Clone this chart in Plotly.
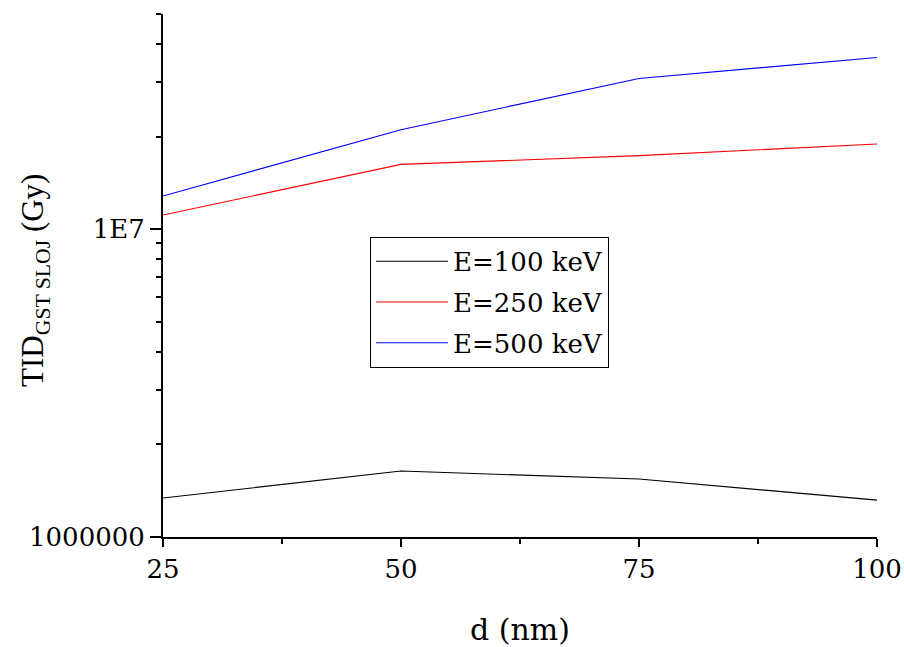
import plotly.graph_objects as go

d_nm = [25, 50, 75, 100]
e100 = [1.339e6, 1.638e6, 1.543e6, 1.318e6]
e250 = [1.112e7, 1.623e7, 1.733e7, 1.891e7]
e500 = [1.282e7, 2.104e7, 3.087e7, 3.613e7]
names = ["E=100 keV", "E=250 keV", "E=500 keV"]
colors = ["black", "red", "blue"]

y_major = [1e6, 1e7]
y_major_text = ["1000000", "1E7"]
y_minor = [2e6, 3e6, 4e6, 5e6, 6e6, 7e6, 8e6, 9e6, 2e7, 3e7, 4e7, 5e7]
x_major = [25, 50, 75, 100]
x_minor = [37.5, 62.5, 87.5]

SERIF = "DejaVu Serif"
TITLE_Y_FONT = "Liberation Serif"

fig = go.Figure()
for i, (ys, n, c) in enumerate(zip([e100, e250, e500], names, colors)):
    fig.add_trace(go.Scatter(x=d_nm, y=ys, mode="lines", name=n,
                             legendgroup=f"g{i}",
                             line=dict(color=c, width=1.1)))

fig.update_layout(
    width=904, height=647,
    margin=dict(l=163, r=27, t=14, b=110),
    paper_bgcolor="white", plot_bgcolor="white",
    font=dict(family=SERIF, color="black", size=26),
    showlegend=True,
    legend=dict(x=0.29, y=0.574, xanchor="left", yanchor="top",
                bordercolor="black", borderwidth=1, bgcolor="white",
                font=dict(size=26, family=SERIF), tracegroupgap=4,
                itemwidth=72),
)
fig.update_xaxes(
    range=[25, 100], tickvals=x_major, ticktext=[str(v) for v in x_major],
    showline=True, linecolor="black", linewidth=2, ticks="outside",
    ticklen=8, tickwidth=2, tickcolor="black", showgrid=False, zeroline=False,
    automargin=False,
    minor=dict(tickvals=x_minor, ticks="outside", ticklen=5, tickwidth=2,
               tickcolor="black", showgrid=False),
    tickfont=dict(size=26, family=SERIF),
    title=dict(text="d (nm)", font=dict(size=30, family=SERIF), standoff=36),
)
fig.update_yaxes(
    type="log", range=[6, 7.69897],
    tickvals=y_major, ticktext=y_major_text,
    showline=True, linecolor="black", linewidth=2, ticks="outside",
    ticklen=11, tickwidth=2, tickcolor="black", showgrid=False, zeroline=False,
    automargin=False,
    minor=dict(tickvals=y_minor, ticks="outside", ticklen=5, tickwidth=2,
               tickcolor="black", showgrid=False),
    tickfont=dict(size=26, family=SERIF),
)
fig.add_annotation(
    text="TID<sub>GST SLOJ</sub> (Gy)", textangle=-90,
    xref="paper", yref="paper", x=-0.179, y=0.49,
    xanchor="center", yanchor="middle", showarrow=False,
    font=dict(size=31, family=TITLE_Y_FONT, color="black"),
)

fig.write_html("out.html", config={"displayModeBar": False},
               post_script="document.body.style.margin='0px';")
